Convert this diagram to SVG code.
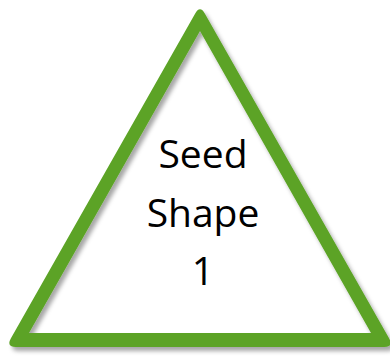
<svg xmlns="http://www.w3.org/2000/svg" width="390" height="356" viewBox="0 0 390 356">
<defs>
<style>
.lbl{font-family:"Open Sans","Liberation Sans",sans-serif;font-size:39px;fill:#000;text-anchor:middle}
</style>
<filter id="sh" x="-10%" y="-10%" width="120%" height="120%">
<feDropShadow dx="3" dy="4" stdDeviation="2" flood-color="#000" flood-opacity="0.35"/>
</filter>
</defs>
<rect width="390" height="356" fill="#fff"/>
<g id="seed-shape-1">
<polygon points="200,31 29,333 371,333" fill="#fff"/>
<path filter="url(#sh)" fill="#5ba325" fill-rule="evenodd" d="M 195.07 13.70 Q 200 5 204.93 13.70 L 389.07 338.30 Q 394 347 384 347 L 16 347 Q 6 347 10.93 338.30 Z M 200 31 L 29 333 L 371 333 Z"/>
<text class="lbl" x="203" y="168">Seed</text>
<text class="lbl" x="203" y="227">Shape</text>
<text class="lbl" x="203" y="285">1</text>
</g>
<g id="connectors"/>
</svg>
